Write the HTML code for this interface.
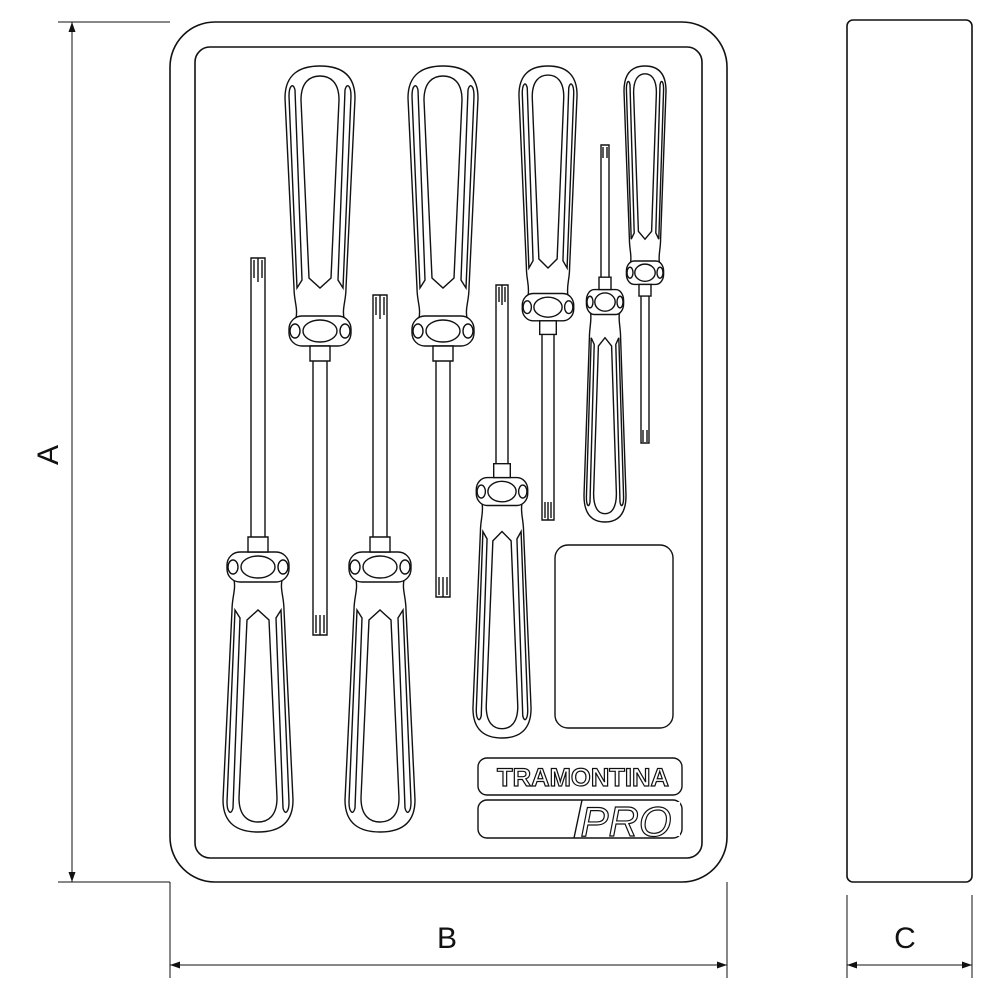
<!DOCTYPE html>
<html><head><meta charset="utf-8"><style>
html,body{margin:0;padding:0;background:#fff;}
svg{display:block;}
.s{fill:none;stroke:#111;stroke-width:1.4;vector-effect:non-scaling-stroke;}
.w{fill:#fff;stroke:#111;stroke-width:1.4;vector-effect:non-scaling-stroke;}
text{font-family:"Liberation Sans",sans-serif;fill:#111;}
</style></head><body>
<svg width="1000" height="1000" viewBox="0 0 1000 1000" xmlns="http://www.w3.org/2000/svg">
<defs>
<marker id="ar" viewBox="0 0 10 10" refX="10" refY="5" markerWidth="10" markerHeight="10" orient="auto-start-reverse" markerUnits="userSpaceOnUse">
<path d="M0,1.5 L10,5 L0,8.5 Z" fill="#111"/></marker>
<g id="H">
<path class="w" d="M-35,32 C-35,8 -20,0 0,0 C20,0 35,8 35,32 L26,222 C26,235 22,242 24,252 L-24,252 C-22,242 -26,235 -26,222 Z"/>
<path class="s" d="M-19,34 C-19,16 -10,10 0,10 C10,10 19,16 19,34 L11,212 L0,222 L-11,212 Z"/>
<path class="s" d="M-31,30 C-31,20 -27,16 -25,24 L-18,214 L-23,222 Z"/>
<path class="s" d="M31,30 C31,20 27,16 25,24 L18,214 L23,222 Z"/>
<rect class="w" x="-31" y="250" width="62" height="30" rx="13"/>
<ellipse class="s" cx="0" cy="265" rx="17" ry="11"/>
<ellipse class="s" cx="-25" cy="265" rx="5" ry="7"/>
<ellipse class="s" cx="25" cy="265" rx="5" ry="7"/>
<rect class="w" x="-10" y="280" width="20" height="15"/>
</g>
</defs>

<!-- tray -->
<rect class="s" x="170" y="22" width="557" height="860" rx="45" style="stroke-width:1.6"/>
<rect class="s" x="195" y="47" width="507" height="811" rx="15" style="stroke-width:1.6"/>
<rect class="s" x="555" y="545" width="118" height="183" rx="13"/>
<rect class="s" x="478" y="758" width="204" height="37" rx="9"/>
<rect class="s" x="478" y="800" width="204" height="38" rx="9"/>
<text x="497" y="786" textLength="172" lengthAdjust="spacingAndGlyphs" font-size="25" style="fill:#fff;stroke:#111;stroke-width:1.2" font-weight="bold">TRAMONTINA</text>
<rect x="572" y="802" width="108" height="34" fill="#fff"/>
<line class="s" x1="582" y1="800" x2="574" y2="838"/>
<text x="626" y="836" text-anchor="middle" font-size="42" font-style="italic" style="fill:#fff;stroke:#111;stroke-width:1.2">PRO</text>

<!-- shafts (handle up) -->
<rect class="w" x="313" y="360" width="14" height="275"/>
<path class="s" d="M316,615 L316,633 M320,615 L320,635 M324,615 L324,633"/>
<rect class="w" x="436" y="360" width="14" height="237"/>
<path class="s" d="M439,577 L439,595 M443,577 L443,597 M447,577 L447,595"/>
<rect class="w" x="542" y="333" width="12" height="187"/>
<path class="s" d="M545,502 L545,518 M548,502 L548,520 M551,502 L551,518"/>
<rect class="w" x="641" y="294" width="8" height="149"/>
<path class="s" d="M643,430 L643,442 M647,430 L647,442"/>
<!-- shafts (handle down) -->
<rect class="w" x="251" y="258" width="14" height="280"/>
<path class="s" d="M254,260 L254,278 M258,258 L258,282 M262,260 L262,278"/>
<rect class="w" x="373" y="295" width="14" height="243"/>
<path class="s" d="M376,297 L376,315 M380,295 L380,319 M384,297 L384,315"/>
<rect class="w" x="496" y="285" width="12" height="182"/>
<path class="s" d="M499,287 L499,302 M502,285 L502,305 M505,287 L505,302"/>
<rect class="w" x="601" y="145" width="8" height="135"/>
<path class="s" d="M603,147 L603,158 M607,147 L607,158"/>

<!-- handles -->
<use href="#H" transform="translate(320,66)"/>
<use href="#H" transform="translate(443,66)"/>
<use href="#H" transform="translate(548,66) scale(0.83,0.91)"/>
<use href="#H" transform="translate(645,66) scale(0.6,0.78)"/>
<use href="#H" transform="translate(258,832) scale(1,-1)"/>
<use href="#H" transform="translate(380,832) scale(1,-1)"/>
<use href="#H" transform="translate(502,738) scale(0.83,-0.93)"/>
<use href="#H" transform="translate(605,522) scale(0.6,-0.83)"/>

<!-- side view -->
<rect class="s" x="847" y="20" width="125" height="862" rx="6" style="stroke-width:1.6"/>

<!-- dimensions -->
<g class="s" style="stroke-width:1">
<line x1="58" y1="22" x2="170" y2="22"/>
<line x1="58" y1="882" x2="170" y2="882"/>
<line x1="72" y1="22" x2="72" y2="882" marker-start="url(#ar)" marker-end="url(#ar)"/>
<line x1="170" y1="882" x2="170" y2="978"/>
<line x1="727" y1="882" x2="727" y2="978"/>
<line x1="170" y1="965" x2="727" y2="965" marker-start="url(#ar)" marker-end="url(#ar)"/>
<line x1="847" y1="895" x2="847" y2="978"/>
<line x1="972" y1="895" x2="972" y2="978"/>
<line x1="847" y1="965" x2="972" y2="965" marker-start="url(#ar)" marker-end="url(#ar)"/>
</g>
<text x="58" y="455" font-size="30" text-anchor="middle" transform="rotate(-90 58 455)">A</text>
<text x="447" y="948" font-size="30" text-anchor="middle">B</text>
<text x="905" y="948" font-size="30" text-anchor="middle">C</text>
</svg>
</body></html>
